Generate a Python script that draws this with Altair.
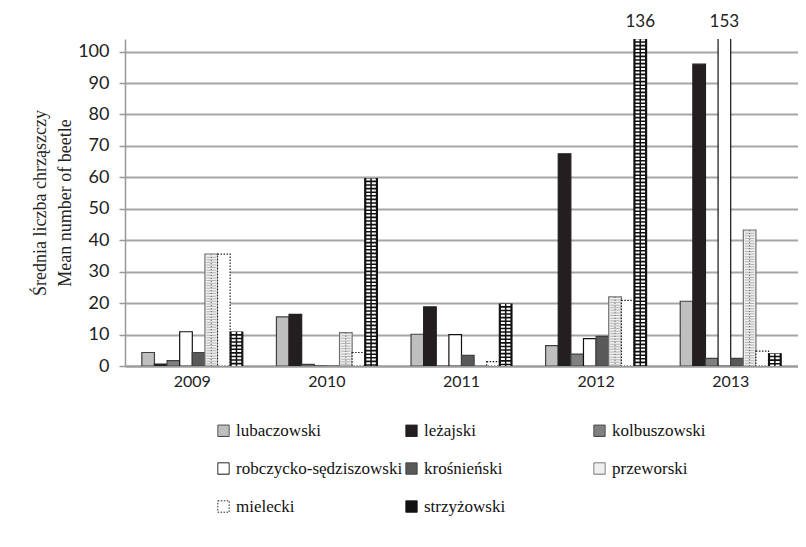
import altair as alt
import pandas as pd

years = ["2009", "2010", "2011", "2012", "2013"]
series = ["lubaczowski", "leżajski", "kolbuszowski", "robczycko-sędziszowski",
          "krośnieński", "przeworski", "mielecki", "strzyżowski"]

lubaczowski = [4.3, 15.6, 10.1, 6.5, 20.6]
lezajski = [0.6, 16.4, 18.8, 67.5, 96.0]
kolbuszowski = [1.7, 0.5, 0.0, 3.8, 2.4]
robczycko = [10.9, 0.0, 10.0, 8.7, 153.0]
krosnienski = [4.3, 0.0, 3.4, 9.4, 2.4]
przeworski = [35.6, 10.6, 0.0, 22.0, 43.2]
mielecki = [35.6, 4.3, 1.4, 20.9, 4.7]
strzyzowski = [10.8, 59.6, 19.7, 136.0, 3.9]

values = [lubaczowski, lezajski, kolbuszowski, robczycko, krosnienski,
          przeworski, mielecki, strzyzowski]
y_ticks = [0, 10, 20, 30, 40, 50, 60, 70, 80, 90, 100]

fills = ["#bfbfbf", "#231f20", "#808080", "#ffffff", "#595959", "#f0f0f0", "#ffffff", "#111111"]
strokes = ["#404040", "#231f20", "#404040", "#111111", "#404040", "#6e6e6e", "#222222", "#111111"]
dashes = [[1, 0], [1, 0], [1, 0], [1, 0], [1, 0], [1, 0], [1.5, 1.5], [1, 0]]

rows = []
for s, vals in zip(series, values):
    for y, v in zip(years, vals):
        rows.append({"year": y, "series": s, "value": v})
df = pd.DataFrame(rows)

YMAX = 104
SERIF = "Liberation Serif, serif"
SANS = "Lato"

legend_props = dict(
    title=None, orient="none", legendX=90, legendY=383, columns=3,
    direction="horizontal", symbolType="square", symbolSize=130,
    symbolStrokeWidth=1, rowPadding=20, columnPadding=-8, labelOffset=4,
    labelLimit=300, gridAlign="all", labelFont=SERIF, labelFontSize=17,
    labelColor="#111",
)

y_axis = alt.Axis(values=y_ticks,
                  title=["Średnia liczba chrząszczy", "Mean number of beetle"],
                  titleFont=SERIF, labelOverlap=False)

x_enc = alt.X("year:N", sort=years,
              scale=alt.Scale(paddingInner=0.25, paddingOuter=0.125),
              axis=alt.Axis(title=None, ticks=False, labelAngle=0, grid=False))
xo_enc = alt.XOffset("series:N", sort=series, scale=alt.Scale(domain=series))
y_scale = alt.Scale(domain=[0, YMAX], nice=False)
y_enc = alt.Y("value:Q", scale=y_scale, axis=y_axis)

base = alt.Chart(df)

bars = base.mark_bar(clip=True, strokeWidth=1.2).encode(
    x=x_enc, xOffset=xo_enc, y=y_enc,
    color=alt.Color("series:N", sort=series,
                    scale=alt.Scale(domain=series, range=fills),
                    legend=alt.Legend(**legend_props)),
    stroke=alt.Stroke("series:N", sort=series,
                      scale=alt.Scale(domain=series, range=strokes),
                      legend=alt.Legend(**legend_props)),
    strokeDash=alt.StrokeDash("series:N", sort=series,
                              scale=alt.Scale(domain=series, range=dashes),
                              legend=alt.Legend(**legend_props)),
)

def rule_layer(name, **kw):
    return base.transform_filter(alt.datum.series == name).mark_rule(clip=True, **kw).encode(
        x=x_enc, xOffset=xo_enc, y=y_enc, y2=alt.datum(0))

prz_stripes = rule_layer("przeworski", strokeWidth=9.5, color="#b4b4b4", strokeDash=[1, 1.6])
prz_center = rule_layer("przeworski", strokeWidth=1, color="#555", strokeDash=[1, 2])
str_stripes = rule_layer("strzyżowski", strokeWidth=9.5, color="#ffffff", strokeDash=[2, 1.6])
str_center = rule_layer("strzyżowski", strokeWidth=1.5, color="#111")

labels = base.transform_filter(alt.datum.value > YMAX).mark_text(
    font=SANS, fontSize=17, color="#222", dy=-17, baseline="middle").encode(
    x=x_enc, xOffset=xo_enc, y=alt.Y(datum=YMAX, scale=y_scale, axis=y_axis),
    text=alt.Text("value:Q", format="d"))

chart = alt.layer(bars, prz_stripes, prz_center, str_stripes, str_center, labels).properties(
    width=673, height=327,
    background="white",
    autosize=alt.AutoSizeParams(type="none"),
    padding={"left": 117, "top": 31, "right": 0, "bottom": 170},
).configure(
    font=SERIF
).configure_view(
    stroke=None
).configure_axisX(
    labelFont=SANS, labelFontSize=16, labelColor="#222", labelPadding=7,
    domainColor="#999", domainWidth=2, ticks=False, grid=False
).configure_axisY(
    titleFont=SERIF, titleFontSize=18, titleFontWeight="normal", titleColor="#222",
    titleLineHeight=25, titlePadding=3,
    labelFont=SANS, labelFontSize=18, labelColor="#222", labelPadding=10,
    tickColor="#999", tickSize=6, tickWidth=1.5, domainColor="#999", domainWidth=1.5,
    gridColor="#a6a6a6", gridWidth=1.8
).configure_legend(
    labelFont=SERIF, labelFontSize=17, labelColor="#111"
)

chart.save("out.html", embed_options={"renderer": "svg", "actions": False})
